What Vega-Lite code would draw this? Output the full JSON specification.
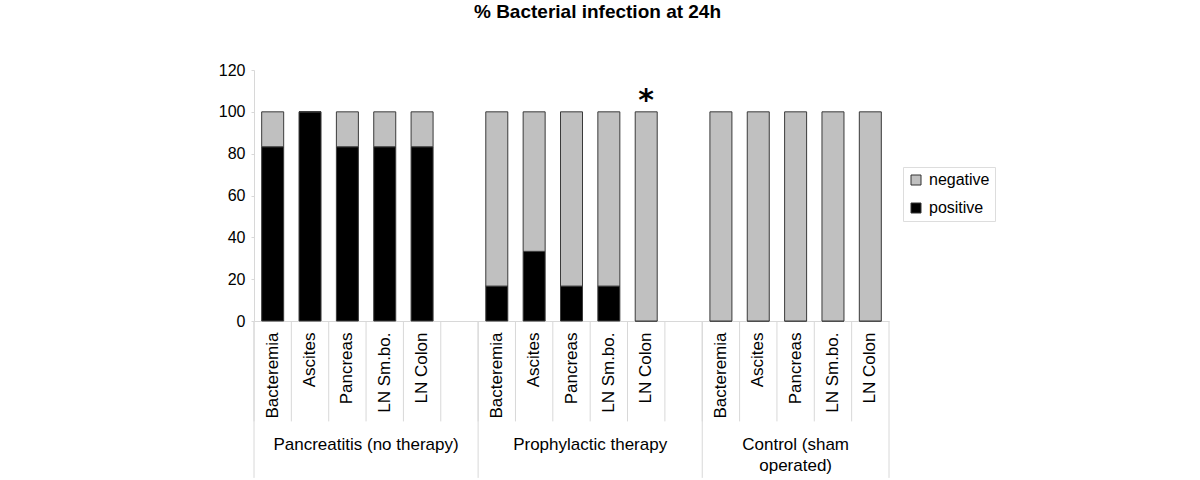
{
  "$schema": "https://vega.github.io/schema/vega-lite/v6.json",
  "autosize": {"type": "none"},
  "width": 635,
  "height": 251,
  "padding": {"left": 254, "top": 70, "right": 311, "bottom": 159},
  "background": "white",
  "config": {
    "font": "Liberation Sans",
    "view": {"stroke": null},
    "axis": {"grid": false, "labelColor": "#000000", "labelFont": "Liberation Sans"}
  },
  "title": {
    "text": "% Bacterial infection at 24h",
    "font": "Liberation Sans",
    "fontSize": 19,
    "fontWeight": "bold",
    "color": "#000000",
    "anchor": "middle",
    "frame": "group",
    "dx": 26,
    "offset": 40
  },
  "datasets": {
    "bars": [
      {"slot": "1|Bacteremia", "status": "positive", "pct": 83.3},
      {"slot": "1|Bacteremia", "status": "negative", "pct": 16.7},
      {"slot": "1|Ascites", "status": "positive", "pct": 100},
      {"slot": "1|Ascites", "status": "negative", "pct": 0},
      {"slot": "1|Pancreas", "status": "positive", "pct": 83.3},
      {"slot": "1|Pancreas", "status": "negative", "pct": 16.7},
      {"slot": "1|LN Sm.bo.", "status": "positive", "pct": 83.3},
      {"slot": "1|LN Sm.bo.", "status": "negative", "pct": 16.7},
      {"slot": "1|LN Colon", "status": "positive", "pct": 83.3},
      {"slot": "1|LN Colon", "status": "negative", "pct": 16.7},
      {"slot": "2|Bacteremia", "status": "positive", "pct": 16.7},
      {"slot": "2|Bacteremia", "status": "negative", "pct": 83.3},
      {"slot": "2|Ascites", "status": "positive", "pct": 33.3},
      {"slot": "2|Ascites", "status": "negative", "pct": 66.7},
      {"slot": "2|Pancreas", "status": "positive", "pct": 16.7},
      {"slot": "2|Pancreas", "status": "negative", "pct": 83.3},
      {"slot": "2|LN Sm.bo.", "status": "positive", "pct": 16.7},
      {"slot": "2|LN Sm.bo.", "status": "negative", "pct": 83.3},
      {"slot": "2|LN Colon", "status": "positive", "pct": 0},
      {"slot": "2|LN Colon", "status": "negative", "pct": 100},
      {"slot": "3|Bacteremia", "status": "positive", "pct": 0},
      {"slot": "3|Bacteremia", "status": "negative", "pct": 100},
      {"slot": "3|Ascites", "status": "positive", "pct": 0},
      {"slot": "3|Ascites", "status": "negative", "pct": 100},
      {"slot": "3|Pancreas", "status": "positive", "pct": 0},
      {"slot": "3|Pancreas", "status": "negative", "pct": 100},
      {"slot": "3|LN Sm.bo.", "status": "positive", "pct": 0},
      {"slot": "3|LN Sm.bo.", "status": "negative", "pct": 100},
      {"slot": "3|LN Colon", "status": "positive", "pct": 0},
      {"slot": "3|LN Colon", "status": "negative", "pct": 100}
    ],
    "slots": [
      {"slot": "1|Bacteremia"}, {"slot": "1|Ascites"}, {"slot": "1|Pancreas"}, {"slot": "1|LN Sm.bo."}, {"slot": "1|LN Colon"}, {"slot": "g1"},
      {"slot": "2|Bacteremia"}, {"slot": "2|Ascites"}, {"slot": "2|Pancreas"}, {"slot": "2|LN Sm.bo."}, {"slot": "2|LN Colon"}, {"slot": "g2"},
      {"slot": "3|Bacteremia"}, {"slot": "3|Ascites"}, {"slot": "3|Pancreas"}, {"slot": "3|LN Sm.bo."}, {"slot": "3|LN Colon"}
    ],
    "groupStarts": [
      {"slot": "1|Bacteremia", "group": "Pancreatitis (no therapy)"},
      {"slot": "2|Bacteremia", "group": "Prophylactic therapy"},
      {"slot": "3|Bacteremia", "group": "Control (sham operated)"}
    ],
    "groupEnd": [
      {"slot": "3|LN Colon", "group": "Control (sham operated)"}
    ],
    "groupLabelsA": [
      {"slot": "1|Pancreas", "label": "Pancreatitis (no therapy)"},
      {"slot": "2|Pancreas", "label": "Prophylactic therapy"}
    ],
    "groupLabelsB": [
      {"slot": "3|Pancreas", "label": "Control (sham\noperated)"}
    ],
    "notes": [
      {"slot": "2|LN Colon", "top": 100, "note": "*"}
    ]
  },
  "layer": [
    {
      "data": {"name": "slots"},
      "mark": {"type": "rule", "color": "#d8d8d8", "strokeWidth": 1},
      "encoding": {
        "x": {"field": "slot", "type": "nominal", "sort": null, "bandPosition": 0,
              "scale": {"domain": ["1|Bacteremia", "1|Ascites", "1|Pancreas", "1|LN Sm.bo.", "1|LN Colon", "g1", "2|Bacteremia", "2|Ascites", "2|Pancreas", "2|LN Sm.bo.", "2|LN Colon", "g2", "3|Bacteremia", "3|Ascites", "3|Pancreas", "3|LN Sm.bo.", "3|LN Colon"], "paddingInner": 0, "paddingOuter": 0}},
        "y": {"datum": 0, "type": "quantitative", "scale": {"domain": [0, 120], "nice": false}},
        "y2": {"datum": -48}
      }
    },
    {
      "data": {"name": "groupStarts"},
      "mark": {"type": "rule", "color": "#d8d8d8", "strokeWidth": 1},
      "encoding": {
        "x": {"field": "slot", "type": "nominal", "sort": null, "bandPosition": 0,
              "scale": {"domain": ["1|Bacteremia", "1|Ascites", "1|Pancreas", "1|LN Sm.bo.", "1|LN Colon", "g1", "2|Bacteremia", "2|Ascites", "2|Pancreas", "2|LN Sm.bo.", "2|LN Colon", "g2", "3|Bacteremia", "3|Ascites", "3|Pancreas", "3|LN Sm.bo.", "3|LN Colon"], "paddingInner": 0, "paddingOuter": 0}},
        "y": {"datum": 0, "type": "quantitative", "scale": {"domain": [0, 120], "nice": false}},
        "y2": {"datum": -75}
      }
    },
    {
      "data": {"name": "groupEnd"},
      "mark": {"type": "rule", "color": "#d8d8d8", "strokeWidth": 1},
      "encoding": {
        "x": {"field": "slot", "type": "nominal", "sort": null, "bandPosition": 1,
              "scale": {"domain": ["1|Bacteremia", "1|Ascites", "1|Pancreas", "1|LN Sm.bo.", "1|LN Colon", "g1", "2|Bacteremia", "2|Ascites", "2|Pancreas", "2|LN Sm.bo.", "2|LN Colon", "g2", "3|Bacteremia", "3|Ascites", "3|Pancreas", "3|LN Sm.bo.", "3|LN Colon"], "paddingInner": 0, "paddingOuter": 0}},
        "y": {"datum": 0, "type": "quantitative", "scale": {"domain": [0, 120], "nice": false}},
        "y2": {"datum": -75}
      }
    },
    {
      "data": {"name": "bars"},
      "mark": {"type": "bar", "size": 22, "stroke": "#3a3a3a", "strokeWidth": 1},
      "encoding": {
        "x": {
          "field": "slot",
          "type": "nominal",
          "sort": null,
          "scale": {"domain": ["1|Bacteremia", "1|Ascites", "1|Pancreas", "1|LN Sm.bo.", "1|LN Colon", "g1", "2|Bacteremia", "2|Ascites", "2|Pancreas", "2|LN Sm.bo.", "2|LN Colon", "g2", "3|Bacteremia", "3|Ascites", "3|Pancreas", "3|LN Sm.bo.", "3|LN Colon"], "paddingInner": 0, "paddingOuter": 0},
          "axis": {
            "orient": "bottom",
            "title": null,
            "labelAngle": -90,
            "labelAlign": "right",
            "labelBaseline": "middle",
            "labelFontSize": 17,
            "labelPadding": 11,
            "labelExpr": "indexof(datum.value, '|') >= 0 ? split(datum.value, '|')[1] : ''",
            "ticks": false,
            "domainColor": "#d8d8d8",
            "labelOverlap": false
          }
        },
        "y": {
          "field": "pct",
          "type": "quantitative",
          "stack": "zero",
          "scale": {"domain": [0, 120], "nice": false},
          "axis": {
            "title": null,
            "values": [0, 20, 40, 60, 80, 100, 120],
            "labelFontSize": 16,
            "labelPadding": 6,
            "tickSize": 3,
            "tickColor": "#d8d8d8",
            "domainColor": "#d8d8d8"
          }
        },
        "color": {
          "field": "status",
          "type": "nominal",
          "scale": {"domain": ["negative", "positive"], "range": ["#c0c0c0", "#000000"]},
          "legend": {
            "title": null,
            "orient": "none",
            "legendX": 649,
            "legendY": 97,
            "symbolType": "square",
            "symbolSize": 100,
            "symbolStrokeColor": "#333333",
            "symbolStrokeWidth": 1,
            "labelFontSize": 16,
            "labelColor": "#000000",
            "labelOffset": 5,
            "rowPadding": 12,
            "padding": 5,
            "strokeColor": "#dddddd"
          }
        },
        "order": {"field": "status", "sort": "descending"}
      }
    },
    {
      "data": {"name": "groupLabelsA"},
      "mark": {"type": "text", "fontSize": 17, "baseline": "top", "align": "center", "color": "#000000"},
      "encoding": {
        "x": {"field": "slot", "type": "nominal", "sort": null, "bandPosition": 1,
              "scale": {"domain": ["1|Bacteremia", "1|Ascites", "1|Pancreas", "1|LN Sm.bo.", "1|LN Colon", "g1", "2|Bacteremia", "2|Ascites", "2|Pancreas", "2|LN Sm.bo.", "2|LN Colon", "g2", "3|Bacteremia", "3|Ascites", "3|Pancreas", "3|LN Sm.bo.", "3|LN Colon"], "paddingInner": 0, "paddingOuter": 0}},
        "y": {"datum": -55.5, "type": "quantitative", "scale": {"domain": [0, 120], "nice": false}},
        "text": {"field": "label"}
      }
    },
    {
      "data": {"name": "groupLabelsB"},
      "mark": {"type": "text", "fontSize": 17, "baseline": "top", "align": "center", "color": "#000000", "lineBreak": "\n", "lineHeight": 21},
      "encoding": {
        "x": {"field": "slot", "type": "nominal", "sort": null, "bandPosition": 0.5,
              "scale": {"domain": ["1|Bacteremia", "1|Ascites", "1|Pancreas", "1|LN Sm.bo.", "1|LN Colon", "g1", "2|Bacteremia", "2|Ascites", "2|Pancreas", "2|LN Sm.bo.", "2|LN Colon", "g2", "3|Bacteremia", "3|Ascites", "3|Pancreas", "3|LN Sm.bo.", "3|LN Colon"], "paddingInner": 0, "paddingOuter": 0}},
        "y": {"datum": -55.5, "type": "quantitative", "scale": {"domain": [0, 120], "nice": false}},
        "text": {"field": "label"}
      }
    },
    {
      "data": {"name": "notes"},
      "mark": {"type": "text", "font": "DejaVu Sans", "fontSize": 30, "fontWeight": "bold", "baseline": "alphabetic", "align": "center", "dy": -2, "color": "#000000"},
      "encoding": {
        "x": {"field": "slot", "type": "nominal", "sort": null, "bandPosition": 0.5,
              "scale": {"domain": ["1|Bacteremia", "1|Ascites", "1|Pancreas", "1|LN Sm.bo.", "1|LN Colon", "g1", "2|Bacteremia", "2|Ascites", "2|Pancreas", "2|LN Sm.bo.", "2|LN Colon", "g2", "3|Bacteremia", "3|Ascites", "3|Pancreas", "3|LN Sm.bo.", "3|LN Colon"], "paddingInner": 0, "paddingOuter": 0}},
        "y": {"field": "top", "type": "quantitative", "scale": {"domain": [0, 120], "nice": false}},
        "text": {"field": "note"}
      }
    }
  ]
}
